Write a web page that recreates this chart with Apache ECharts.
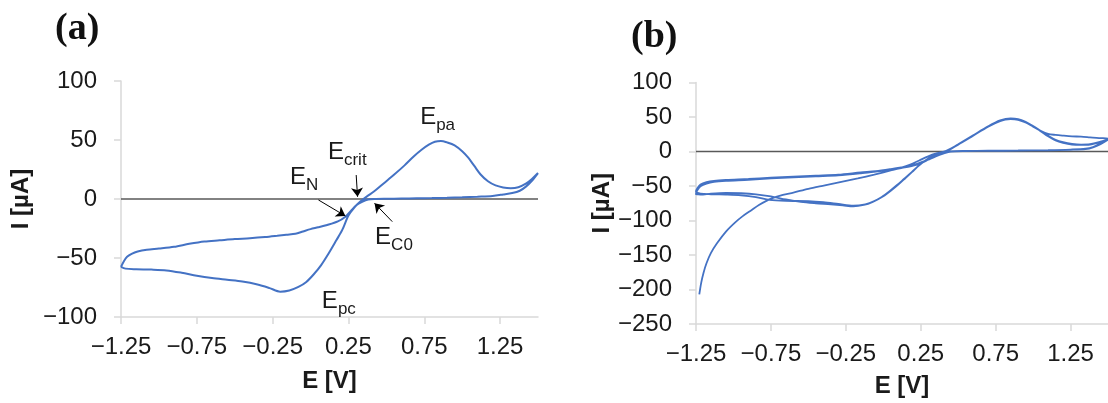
<!DOCTYPE html>
<html>
<head>
<meta charset="utf-8">
<script src="https://cdn.jsdelivr.net/npm/echarts@6/dist/echarts.min.js"></script>
<style>
html,body{margin:0;padding:0;background:#fff;}
#c{width:1108px;height:403px;}
</style>
</head>
<body>
<div id="c"></div>
<script>
// ---------- data ----------
const xTickValues = [-1.25, -0.75, -0.25, 0.25, 0.75, 1.25];

// Panel (a): forward (lower / anodic-peak) branch
const aFwdE = [-1.25,-1.22,-1.15,-1.05,-0.95,-0.85,-0.75,-0.65,-0.55,-0.45,-0.35,-0.27,-0.2,-0.14,-0.08,-0.03,0.02,0.07,0.12,0.17,0.21,0.25,0.29,0.33,0.37,0.42,0.48,0.55,0.62,0.68,0.73,0.78,0.82,0.86,0.9,0.95,1.0,1.04,1.08,1.12,1.17,1.22,1.27,1.32,1.37,1.42,1.46,1.5];
const aFwdI = [-57.5,-59,-59.5,-59.8,-60.5,-62.5,-65,-67,-68.5,-70,-72.5,-75.5,-78.5,-77.5,-74.5,-70.5,-64,-56,-46,-35,-26,-14,-7,-2,2,6.5,13,20.5,28.5,36,41.5,46,48.5,49.2,48,45.5,40.5,35,28,21,15,11.5,9.8,9.2,10,13,17,22];
// Panel (a): reverse (baseline / upper) branch
const aRevE = [1.5,1.46,1.42,1.38,1.33,1.27,1.2,1.1,1.0,0.9,0.8,0.7,0.6,0.5,0.43,0.38,0.34,0.3,0.27,0.23,0.18,0.11,0.05,0.0,-0.05,-0.1,-0.16,-0.22,-0.3,-0.4,-0.5,-0.6,-0.7,-0.8,-0.9,-1.0,-1.08,-1.14,-1.18,-1.21,-1.23,-1.25];
const aRevI = [22,15.5,10.5,7,5,3.8,2.6,2,1.5,1.1,0.8,0.6,0.4,0.2,0,-0.5,-2.5,-5.5,-9.5,-15,-19,-22,-24,-25.5,-27.5,-29.5,-30.3,-31.2,-32.3,-33.3,-34,-35,-36,-38,-40.5,-42,-43,-44.5,-46.5,-49,-52.5,-57.5];

// Panel (a) annotations: subscript, anchor E, anchor I
const annoSub = ['pa','crit','N','C0','pc'];
const annoE = [0.726, 0.118, -0.133, 0.429, 0.078];
const annoI = [68.6, 39.4, 18.2, -32.6, -86.9];
// arrows: from (E,I) to (E,I)
const arrowFromE = [0.301, 0.052, 0.539];
const arrowFromI = [20.3, -0.8, -19.2];
const arrowToE = [0.310, 0.230, 0.422];
const arrowToI = [1.9, -14.4, -3.6];

// Panel (b): initial trace
const bInitE = [-1.228,-1.215,-1.2,-1.18,-1.15,-1.11,-1.05,-0.99,-0.94,-0.88,-0.83,-0.78,-0.74,-0.67,-0.6,-0.5,-0.39,-0.28,-0.17,-0.06,0.05,0.12,0.18,0.24,0.3,0.36,0.42];
const bInitI = [-207,-190,-176,-162,-147,-133,-116,-103,-94,-85,-77.5,-71.5,-67.5,-63,-59.5,-54,-49,-44,-39,-33.5,-27.5,-23.5,-19,-13,-7,-2.5,1];
// Panel (b): anodic peak branches (cycles 1..3)
const bPeakE = [0.5,0.6,0.7,0.78,0.85,0.9,0.95,1.0,1.05,1.1,1.15,1.2,1.26,1.32,1.38,1.44,1.5];
const bPeak1I = [10,23,36,44,47.5,46.5,42,36,30,25.5,24,23,22,21.5,20.5,19.5,19];
const bPeak2I = [10.5,23.5,36.5,45,48,47,43,37,30,23,17,13.5,11,10,10.5,13.5,18];
const bPeak3I = [10,23,36,44.5,47,46,42,36.5,29.5,22,16,12.5,10,9.5,10,13,17];
// Panel (b): return branches (cycles 1..3)
const bRetE = [1.5,1.45,1.4,1.35,1.25,1.1,0.9,0.7,0.55,0.45,0.4,0.35,0.3,0.26,0.2,0.12,0.05,-0.05,-0.15,-0.3,-0.45,-0.6,-0.75,-0.9,-1.05,-1.13,-1.18,-1.22,-1.24,-1.25];
const bRet1I = [19,12,6.5,4,2.8,2,1.5,1.2,0.8,0,-2.5,-6,-11,-15,-19.5,-23,-25.5,-28.5,-30.3,-33.5,-35,-36.5,-38,-39.8,-41.2,-42.5,-44.5,-48,-53,-58];
const bRet2I = [18,11,6,3.5,2.5,1.8,1.3,0.9,0.6,0,-3,-7,-12,-16,-20.5,-24,-26.5,-29,-31.5,-34.5,-36,-37.5,-39,-41,-42.5,-44,-46.5,-50.5,-56,-61];
const bRet3I = [17,10.5,6,3.5,2.5,1.8,1.4,1,0.7,0,-2.8,-6.5,-11.5,-15.5,-20,-23.5,-26,-28.8,-31,-34,-35.5,-37,-38.5,-40.5,-42,-43.5,-46,-49.5,-55,-63];
// Panel (b): cathodic (lower) branches (cycles 2 and 3)
const bLow2E = [-1.25,-1.22,-1.15,-1.05,-0.95,-0.85,-0.76,-0.65,-0.5,-0.4,-0.3,-0.2,-0.12,-0.06,0.0,0.05,0.1,0.15,0.2,0.25,0.3,0.36,0.42];
const bLow2I = [-58,-61,-62,-62.5,-63.5,-66,-70,-71.5,-72,-73.5,-76,-78.5,-76.5,-72,-65,-57,-48,-38,-28,-18,-10,-3.5,0.5];
const bLow3E = [-1.25,-1.22,-1.15,-1.05,-0.95,-0.85,-0.75,-0.65,-0.55,-0.45,-0.35,-0.27,-0.2,-0.13,-0.07,-0.01,0.04,0.09,0.14,0.19,0.24,0.29,0.35,0.42];
const bLow3I = [-61,-62.5,-61,-60,-60.5,-62,-65,-69.5,-73,-75,-76.5,-78,-79.5,-77.5,-73,-66,-58,-49,-39.5,-30,-20,-12,-5,0];

// ---------- build ----------
function zip(e, i) { return e.map((v, k) => [v, i[k]]); }
const aLoop = zip(aFwdE, aFwdI).concat(zip(aRevE, aRevI).slice(1));
const bPath = [].concat(
  zip(bInitE, bInitI),
  zip(bPeakE, bPeak1I),
  zip(bRetE, bRet1I).slice(1),
  zip(bLow2E, bLow2I).slice(1),
  zip(bPeakE, bPeak2I),
  zip(bRetE, bRet2I).slice(1),
  zip(bLow3E, bLow3I).slice(1),
  zip(bPeakE, bPeak3I),
  zip(bRetE, bRet3I).slice(1)
);

const BLUE = '#4472C4';
const AXIS_GRAY = '#d9d9d9';
const TXT = '#1a1a1a';
const FONT = '"Liberation Sans", Arial, sans-serif';
const minus = v => String(v).replace('-', '\u2212');

function xAxisCfg(gi, gap) {
  return {
    gridIndex: gi, type: 'value', min: -1.25, max: 1.5,
    axisLine: { show: true, onZero: false, lineStyle: { color: AXIS_GRAY, width: 1.5 } },
    axisTick: { show: true, length: 7, lineStyle: { color: AXIS_GRAY, width: 1.5 }, customValues: xTickValues },
    axisLabel: { customValues: xTickValues, formatter: v => minus(v.toFixed(2)), fontSize: 24, color: TXT, fontFamily: FONT, margin: 18 },
    splitLine: { show: false },
    name: 'E [V]', nameLocation: 'middle', nameGap: gap,
    nameTextStyle: { fontSize: 24, fontWeight: 'bold', color: TXT, fontFamily: FONT }
  };
}
function yAxisCfg(gi, min, max, gap) {
  return {
    gridIndex: gi, type: 'value', min: min, max: max, interval: 50,
    axisLine: { show: true, onZero: false, lineStyle: { color: AXIS_GRAY, width: 1.5 } },
    axisTick: { show: true, length: 7, lineStyle: { color: AXIS_GRAY, width: 1.5 } },
    axisLabel: { formatter: v => minus(v), fontSize: 24, color: TXT, fontFamily: FONT, margin: 24 },
    splitLine: { show: false },
    name: 'I [\u00b5A]', nameLocation: 'middle', nameGap: gap, nameRotate: 90,
    nameTextStyle: { fontSize: 24, fontWeight: 'bold', color: TXT, fontFamily: FONT }
  };
}

const rich = {
  E: { fontSize: 24, lineHeight: 24, color: TXT, fontFamily: FONT },
  s: { fontSize: 17, lineHeight: 17, padding: [16, 0, 0, 0], color: TXT, fontFamily: FONT }
};

const option = {
  animation: false,
  backgroundColor: '#ffffff',
  title: [
    { text: '(a)', left: 55, top: 10, padding: 0, textStyle: { fontFamily: '"Liberation Serif", "DejaVu Serif", serif', fontWeight: 'bold', fontSize: 38, color: '#111' } },
    { text: '(b)', left: 631, top: 18, padding: 0, textStyle: { fontFamily: '"Liberation Serif", "DejaVu Serif", serif', fontWeight: 'bold', fontSize: 38, color: '#111' } }
  ],
  grid: [
    { left: 121, top: 81, width: 417, height: 236 },
    { left: 696, top: 82.5, width: 418, height: 245 }
  ],
  xAxis: [xAxisCfg(0, 52), xAxisCfg(1, 50)],
  yAxis: [yAxisCfg(0, -100, 100, 88), yAxisCfg(1, -250, 100, 80)],
  series: [
    { type: 'line', xAxisIndex: 0, yAxisIndex: 0, data: [[-1.25, 0], [1.5, 0]], showSymbol: false, silent: true,
      lineStyle: { color: '#595959', width: 1.5 }, z: 1 },
    { type: 'line', xAxisIndex: 0, yAxisIndex: 0, data: aLoop, showSymbol: false, smooth: 0.3, silent: true,
      lineStyle: { color: BLUE, width: 2 }, z: 2,
      markPoint: {
        symbol: 'circle', symbolSize: 1, itemStyle: { color: 'rgba(0,0,0,0)' }, silent: true,
        label: { show: true, position: [0, 0], align: 'left', verticalAlign: 'middle', rich: rich,
          formatter: p => '{E|E}{s|' + p.name + '}' },
        data: annoSub.map((s, k) => ({ name: s, coord: [annoE[k], annoI[k]] }))
      },
      markLine: {
        silent: true, symbol: ['none', 'arrow'], symbolSize: 9, label: { show: false },
        lineStyle: { color: '#000', type: 'solid', width: 1 },
        emphasis: { disabled: true },
        data: arrowFromE.map((e, k) => [{ coord: [e, arrowFromI[k]] }, { coord: [arrowToE[k], arrowToI[k]] }])
      }
    },
    { type: 'line', xAxisIndex: 1, yAxisIndex: 1, data: [[-1.25, 0], [1.5, 0]], showSymbol: false, silent: true,
      lineStyle: { color: '#595959', width: 1.5 }, z: 1 },
    { type: 'line', xAxisIndex: 1, yAxisIndex: 1, data: bPath, showSymbol: false, smooth: 0.3, silent: true,
      lineStyle: { color: BLUE, width: 1.8 }, z: 2 }
  ]
};

const chart = echarts.init(document.getElementById('c'), null, { renderer: 'canvas' });
chart.setOption(option);
</script>
</body>
</html>
